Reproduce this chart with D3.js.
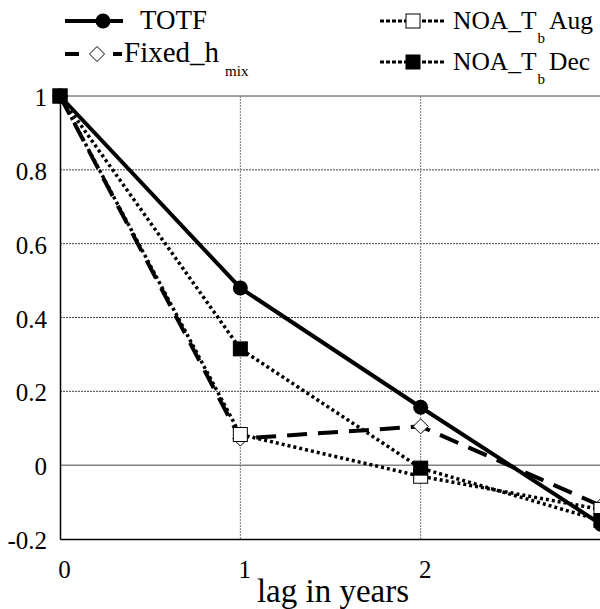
<!DOCTYPE html>
<html>
<head>
<meta charset="UTF-8">
<script src="https://d3js.org/d3.v7.min.js"></script>
<style>
  body { margin: 0; background: #fff; }
</style>
</head>
<body>
<svg id="chart" width="600" height="609"></svg>
<script>
// data
const lags = [0, 1, 2, 3];
const totf = [1, 0.48, 0.157, -0.16];
const fixedHmix = [1, 0.072, 0.105, -0.11];
const noaAug = [1, 0.083, -0.03, -0.12];
const noaDec = [1, 0.315, -0.008, -0.15];
const yTicks = [-0.2, 0, 0.2, 0.4, 0.6, 0.8, 1];
const xTicks = [0, 1, 2];

const serif = '"Liberation Serif"';
const svg = d3.select("#chart");

const x = d3.scaleLinear().domain([0, 3]).range([60, 601]);
const y = d3.scaleLinear().domain([-0.2, 1]).range([539, 96]);

// grid
const grid = svg.append("g").attr("stroke", "#444").attr("stroke-width", 1);
grid.selectAll(".hg").data(yTicks.filter(d => d > -0.2)).join("line")
    .attr("x1", x(0)).attr("x2", 600)
    .attr("y1", d => y(d)).attr("y2", d => y(d))
    .attr("stroke-dasharray", d => d === 0 || d === 1 ? null : "2,1");
grid.selectAll(".vg").data([1, 2]).join("line")
    .attr("y1", y(1)).attr("y2", y(-0.2))
    .attr("x1", d => x(d)).attr("x2", d => x(d))
    .attr("stroke", "#777")
    .attr("stroke-dasharray", "2,1");

// axes
const yAxis = d3.axisLeft(y).tickValues(yTicks).tickSize(0).tickPadding(13)
    .tickFormat(d => String(+d.toFixed(1)));
svg.append("g").attr("transform", "translate(60,0)").call(yAxis)
    .attr("font-family", null)
    .call(g => g.select(".domain").attr("stroke", "#000").attr("stroke-width", 1.5))
    .selectAll("text").attr("dy", "0.38em").style("font-family", serif)
    .style("font-size", "25px").attr("fill", "#000");

const xAxis = d3.axisBottom(x).tickValues(xTicks).tickSize(0).tickPadding(21).tickFormat(d => String(d));
svg.append("g").attr("transform", "translate(0,539)").call(xAxis)
    .attr("font-family", null)
    .call(g => g.select(".domain").attr("stroke", "#000").attr("stroke-width", 1.5))
    .selectAll("text").attr("dx", 4).style("font-family", serif)
    .style("font-size", "25px").attr("fill", "#000");

svg.append("text").attr("x", 333).attr("y", 602).attr("text-anchor", "middle")
    .style("font-family", serif).style("font-size", "33px").text("lag in years");

// series
const series = [
  {name: "TOTF", vals: totf, dash: null, width: 4, marker: "circle", fill: "#000"},
  {name: "Fixed", vals: fixedHmix, dash: "20,11", width: 4, marker: "diamond", fill: "#fff"},
  {name: "Aug", vals: noaAug, dash: "3,3", width: 3.5, marker: "square", fill: "#fff"},
  {name: "Dec", vals: noaDec, dash: "3,3", width: 3.5, marker: "square", fill: "#000"}
];

const line = d3.line().x((d, i) => x(lags[i])).y(d => y(d));

function drawMarker(g, type, fill, cx, cy) {
  if (type === "circle") {
    g.append("circle").attr("cx", cx).attr("cy", cy).attr("r", 7.5).attr("fill", fill);
  } else if (type === "square") {
    g.append("rect").attr("x", cx - 7).attr("y", cy - 7).attr("width", 14).attr("height", 14)
        .attr("fill", fill).attr("stroke", "#000").attr("stroke-width", 1);
  } else {
    g.append("path").attr("d", `M${cx},${cy - 7.5}L${cx + 7.5},${cy}L${cx},${cy + 7.5}L${cx - 7.5},${cy}Z`)
        .attr("fill", fill).attr("stroke", "#000").attr("stroke-width", 1);
  }
}

series.forEach(s => {
  const g = svg.append("g");
  g.append("path").attr("d", line(s.vals)).attr("fill", "none").attr("stroke", "#000")
      .attr("stroke-width", s.width).attr("stroke-dasharray", s.dash);
  s.vals.forEach((v, i) => drawMarker(g, s.marker, s.fill, x(lags[i]), y(v)));
});

// legend
function legendText(tx, ty, size, parts) {
  const t = svg.append("text").attr("x", tx).attr("y", ty)
      .style("font-family", serif).style("font-size", size + "px");
  t.append("tspan").text(parts[0]);
  if (parts[1]) t.append("tspan").attr("dx", parts[3] || 1).attr("dy", 14).style("font-size", "15px").text(parts[1]);
  if (parts[2]) t.append("tspan").attr("dx", 4).attr("dy", -14).text(parts[2]);
}

// TOTF
svg.append("line").attr("x1", 65).attr("x2", 123).attr("y1", 21).attr("y2", 21)
    .attr("stroke", "#000").attr("stroke-width", 4);
drawMarker(svg, "circle", "#000", 103, 21);
legendText(140, 29, 27, ["TOTF"]);

// Fixed_h mix
const lg = svg.append("g").attr("stroke", "#000").attr("stroke-width", 4);
lg.append("line").attr("x1", 65).attr("x2", 79).attr("y1", 54).attr("y2", 54);
lg.append("line").attr("x1", 113).attr("x2", 122).attr("y1", 54).attr("y2", 54);
drawMarker(svg, "diamond", "#fff", 97, 54);
legendText(124, 62, 29, ["Fixed_h", "mix", "", 6]);

// NOA_Tb Aug / Dec
[{ly: 21, fill: "#fff", word: "Aug"}, {ly: 62, fill: "#000", word: "Dec"}].forEach(r => {
  svg.append("line").attr("x1", 380).attr("x2", 445).attr("y1", r.ly).attr("y2", r.ly)
      .attr("stroke", "#000").attr("stroke-width", 3).attr("stroke-dasharray", "4,2");
  drawMarker(svg, "square", r.fill, 413, r.ly);
  legendText(453, r.ly + 8, 25.5, ["NOA_T", "b", r.word]);
});
</script>
</body>
</html>
